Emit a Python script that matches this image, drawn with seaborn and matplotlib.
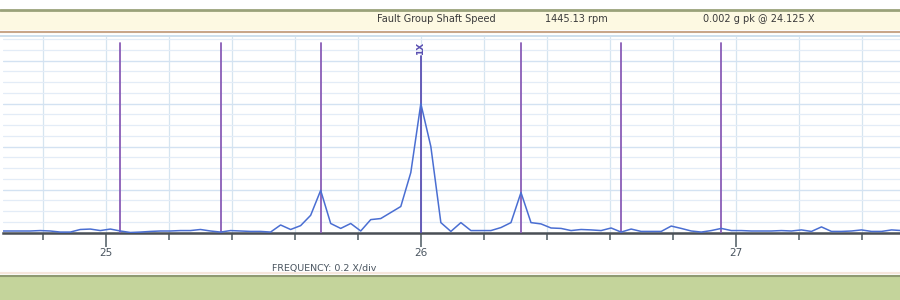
import numpy as np
import pandas as pd
import matplotlib
matplotlib.use("Agg")
import matplotlib.pyplot as plt
from matplotlib.lines import Line2D
from matplotlib.patches import Rectangle
from matplotlib.transforms import blended_transform_factory
import seaborn as sns

# spectrum bins (amplitude in mg, one value per bin)
bin_start = 24.664
bin_width = 0.0318
amplitude_mg = [
    0.35, 0.35, 0.35, 0.35, 0.45, 0.35, 0.1, 0.1, 0.7, 0.8,
    0.45, 0.8, 0.35, 0.0, 0.1, 0.25, 0.35, 0.35, 0.45, 0.45,
    0.7, 0.35, 0.1, 0.45, 0.35, 0.25, 0.25, 0.1, 1.75, 0.7,
    1.6, 4.0, 9.8, 2.1, 0.95, 2.1, 0.35, 3.0, 3.25, 4.65,
    6.05, 13.95, 30.0, 20.0, 2.3, 0.25, 2.3, 0.45, 0.45, 0.45,
    1.15, 2.3, 9.3, 2.3, 2.0, 1.05, 0.95, 0.45, 0.7, 0.6,
    0.45, 1.05, 0.1, 0.8, 0.25, 0.25, 0.25, 1.5, 0.95, 0.35,
    0.1, 0.45, 0.95, 0.45, 0.45, 0.35, 0.35, 0.35, 0.45, 0.35,
    0.6, 0.25, 1.3, 0.25, 0.25, 0.35, 0.6, 0.25, 0.25, 0.6,
    0.45,
]
frequency_x = np.round(bin_start + bin_width * np.arange(len(amplitude_mg)), 4)

# sideband / fault markers (1X in the middle)
marker_lines = [25.046, 25.364, 25.682, 26.0, 26.318, 26.636, 26.954]
marker_label = "1X"

major_ticks = [25, 26, 27]
minor_ticks = [24.8, 25.2, 25.4, 25.6, 25.8, 26.2, 26.4, 26.6, 26.8, 27.2, 27.4]

header_labels = ["Fault Group Shaft Speed", "1445.13 rpm", "0.002 g pk @ 24.125 X"]
axis_title = "FREQUENCY: 0.2 X/div"

df = pd.DataFrame({"freq": frequency_x, "amp": amplitude_mg})

sns.set_style("white")
plt.rcParams['font.family'] = ['DejaVu Sans']

W, H = 900, 300
fig = plt.figure(figsize=(9, 3), dpi=100)
fig.patch.set_facecolor("white")

# header band
fig.add_artist(Rectangle((0, 1 - 30 / H), 1, 20 / H, transform=fig.transFigure,
                         facecolor="#fdf9e2", edgecolor="none", zorder=0))
fig.add_artist(Line2D([0, 1], [1 - 9.5 / H] * 2, transform=fig.transFigure, color="#9aa27a", lw=2))
fig.add_artist(Line2D([0, 1], [1 - 31.5 / H] * 2, transform=fig.transFigure, color="#c8a68a", lw=1.5))
fig.add_artist(Line2D([0, 1], [1 - 35.5 / H] * 2, transform=fig.transFigure, color="#c4d9ea", lw=1.2))
for label, x0 in zip(header_labels, [377, 545, 703]):
    fig.text(x0 / W, 1 - 19.5 / H, label, fontsize=7, color="#3a3a3a", va="center", ha="left")

# footer band
fig.add_artist(Rectangle((0, 0), 1, 23.5 / H, transform=fig.transFigure,
                         facecolor="#c4d49b", edgecolor="none", zorder=0))
fig.add_artist(Line2D([0, 1], [23.8 / H] * 2, transform=fig.transFigure, color="#8f9a72", lw=1.5))
fig.add_artist(Line2D([0, 1], [27.5 / H] * 2, transform=fig.transFigure, color="#f6e6dc", lw=1.5))

# spectrum plot
ax = fig.add_axes([3 / W, (H - 232.5) / H, 897 / W, (232.5 - 37) / H])
ax.set_facecolor("white")
sns.lineplot(data=df, x="freq", y="amp", ax=ax, color="#4a6ed2", lw=1.1, zorder=4)

ax.set_xlim(24.673, 27.521)
ax.set_ylim(0, 45.5)

ax.set_xticks(major_ticks)
ax.set_xticklabels([str(t) for t in major_ticks])
ax.set_xticks(minor_ticks, minor=True)
ax.set_yticks(np.arange(0, 45.1, 10))
ax.set_yticks(np.arange(0, 45.6, 2.5), minor=True)
ax.set_yticklabels([])
ax.tick_params(axis="y", which="both", length=0, left=False)
ax.tick_params(axis="x", which="major", bottom=True, direction="out", length=10, width=1.1,
               color="#4d5a62", labelsize=7.5, labelcolor="#4a5560", pad=1.5)
ax.tick_params(axis="x", which="minor", bottom=True, direction="out", length=5, width=1.1,
               color="#4d5a62")

ax.grid(which="major", axis="y", color="#d3e2f2", lw=1.0, zorder=0)
ax.grid(which="minor", axis="y", color="#e3ecf7", lw=0.9, zorder=0)
ax.grid(which="both", axis="x", color="#d6e5f0", lw=0.9, zorder=0)
ax.set_axisbelow(True)

for side in ["left", "top", "right"]:
    ax.spines[side].set_visible(False)
ax.spines["bottom"].set_color("#4a4f55")
ax.spines["bottom"].set_linewidth(1.8)

ax.set_xlabel("")
ax.set_ylabel("")

# marker lines
for xm in marker_lines:
    if xm == 26.0:
        ax.axvline(xm, ymin=0, ymax=0.905, color="#5b50b2", lw=1.3, zorder=3)
    else:
        ax.axvline(xm, ymin=0, ymax=0.97, color="#8a5db6", lw=1.3, zorder=3)

trans = blended_transform_factory(ax.transData, ax.transAxes)
ax.text(26.0, 0.975, marker_label, transform=trans, rotation=90, fontsize=6.5,
        fontweight="bold", color="#5b50b2", ha="center", va="top")

fig.text(272 / W, 1 - 268.5 / H, axis_title, fontsize=6.8, color="#4a5560",
         ha="left", va="center")

fig.savefig("out.png", dpi=100)
